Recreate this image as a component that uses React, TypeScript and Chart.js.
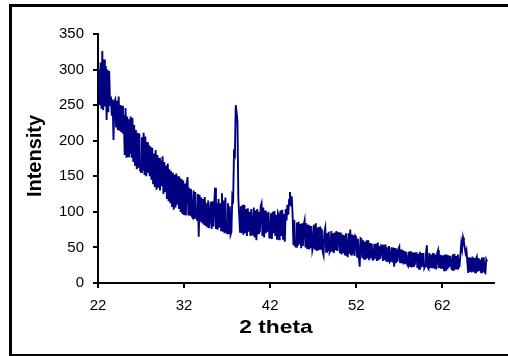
import React, { useEffect, useRef } from "react";
import { Chart, registerables } from "chart.js";

Chart.register(...registerables);

// XRD scan: 2 theta from 22.0 to 67.2 degrees, 0.1 degree step
const SCAN_START = 22;
const SCAN_STEP = 0.1;

const intensity: number[] = [
  268, 300, 250, 310, 245, 326, 243, 314, 248, 305, // 22.0
  229, 300, 240, 298, 250, 262, 235, 258, 201, 255, // 23.0
  258, 220, 256, 215, 262, 214, 250, 212, 249, 210, // 24.0
  236, 180, 246, 176, 234, 178, 230, 182, 234, 176, // 25.0
  232, 170, 222, 166, 215, 160, 211, 162, 210, 158, // 26.0
  156, 205, 158, 211, 152, 206, 150, 198, 155, 194, // 27.0
  150, 192, 145, 190, 140, 182, 135, 187, 131, 180, // 28.0
  134, 176, 130, 172, 136, 178, 125, 170, 128, 165, // 29.0
  118, 168, 115, 160, 112, 157, 108, 155, 103, 152, // 30.0
  106, 154, 110, 150, 104, 148, 100, 146, 97, 144, // 31.0
  97, 140, 95, 138, 149, 95, 134, 96, 132, 94, // 32.0
  92, 130, 90, 128, 94, 89, 125, 65, 124, 86, // 33.0
  120, 84, 118, 82, 121, 80, 112, 78, 116, 77, // 34.0
  77, 114, 76, 115, 79, 110, 134, 76, 112, 75, // 35.0
  118, 78, 112, 74, 126, 72, 116, 70, 120, 72, // 36.0
  70, 112, 69, 108, 68, 72, 122, 118, 183, 180, // 37.0
  250, 240, 227, 120, 96, 72, 108, 70, 110, 68, // 38.0
  110, 70, 104, 66, 105, 72, 100, 66, 104, 68, // 39.0
  74, 106, 64, 102, 60, 104, 70, 100, 71, 108, // 40.0
  112, 66, 106, 64, 102, 70, 98, 72, 100, 64, // 41.0
  64, 98, 62, 100, 70, 101, 66, 96, 62, 99, // 42.0
  96, 60, 102, 66, 103, 62, 97, 58, 104, 88, // 43.0
  110, 96, 117, 128, 108, 122, 98, 53, 89, 52, // 44.0
  51, 85, 52, 86, 54, 83, 49, 84, 52, 82, // 45.0
  88, 50, 84, 48, 82, 47, 80, 49, 80, 46, // 46.0
  52, 82, 47, 84, 45, 78, 46, 79, 48, 76, // 47.0
  74, 44, 39, 72, 78, 44, 70, 45, 72, 43, // 48.0
  46, 73, 44, 70, 42, 71, 46, 73, 45, 70, // 49.0
  70, 42, 71, 40, 68, 42, 67, 40, 70, 39, // 50.0
  38, 70, 41, 75, 40, 68, 41, 67, 38, 66, // 51.0
  64, 37, 62, 36, 23, 63, 62, 35, 60, 34, // 52.0
  58, 33, 60, 35, 60, 32, 56, 35, 55, 33, // 53.0
  33, 55, 34, 55, 31, 57, 32, 52, 34, 53, // 54.0
  52, 31, 54, 32, 54, 30, 50, 31, 52, 30, // 55.0
  32, 50, 29, 50, 23, 49, 28, 47, 30, 48, // 56.0
  51, 28, 47, 28, 46, 26, 45, 27, 44, 26, // 57.0
  24, 44, 23, 45, 22, 43, 24, 43, 25, 42, // 58.0
  42, 21, 41, 20, 44, 22, 42, 23, 42, 21, // 59.0
  24, 42, 53, 22, 20, 42, 21, 40, 22, 41, // 60.0
  41, 20, 40, 19, 42, 46, 21, 40, 20, 39, // 61.0
  20, 39, 18, 40, 17, 40, 19, 39, 22, 38, // 62.0
  38, 18, 40, 17, 41, 19, 38, 19, 40, 22, // 63.0
  24, 40, 56, 48, 64, 58, 50, 42, 46, 30, // 64.0
  14, 36, 16, 35, 15, 37, 16, 35, 15, 34, // 65.0
  37, 16, 35, 17, 33, 15, 36, 16, 36, 15, // 66.0
  14, 33, 30, // 67.0
];

const xTicks: number[] = [22, 32, 42, 52, 62];
const X_MIN = 22;
const X_MAX = 68;
const Y_MIN = 0;
const Y_MAX = 350;
const Y_STEP = 50;

const X_TITLE = "2 theta";
const Y_TITLE = "Intensity";

const FONT = "'Liberation Sans', Arial, sans-serif";

const framePlugin = {
  id: "frameAndTitles",
  beforeDraw(chart: any) {
    const ctx = chart.ctx;
    ctx.save();
    ctx.fillStyle = "#ffffff";
    ctx.fillRect(0, 0, chart.width, chart.height);
    ctx.strokeStyle = "#000000";
    ctx.lineWidth = 3;
    ctx.strokeRect(10.5, 5.5, 520, 350);
    ctx.restore();
  },
  afterDraw(chart: any) {
    const ctx = chart.ctx;
    ctx.save();
    ctx.fillStyle = "#000000";
    ctx.textAlign = "center";
    ctx.textBaseline = "middle";
    ctx.save();
    ctx.font = `bold 19px ${FONT}`;
    ctx.translate(276, 328);
    ctx.scale(1.2, 1);
    ctx.fillText(X_TITLE, 0, 0);
    ctx.restore();
    ctx.font = `bold 20px ${FONT}`;
    ctx.translate(35, 156);
    ctx.rotate(-Math.PI / 2);
    ctx.fillText(Y_TITLE, 0, 0);
    ctx.restore();
  },
};

export default function App() {
  const canvasRef = useRef<HTMLCanvasElement | null>(null);

  useEffect(() => {
    const canvas = canvasRef.current;
    if (!canvas) return;
    const points = intensity.map((v, i) => ({
      x: +(SCAN_START + i * SCAN_STEP).toFixed(2),
      y: v,
    }));
    const chart = new Chart(canvas, {
      type: "line",
      data: {
        datasets: [
          {
            data: points,
            borderColor: "#000080",
            borderWidth: 1.9,
            pointRadius: 0,
            tension: 0,
            fill: false,
          },
        ],
      },
      options: {
        animation: false,
        responsive: false,
        devicePixelRatio: 1,
        parsing: false,
        normalized: true,
        layout: { padding: { left: 0, top: 34, right: 14, bottom: 0 } },
        plugins: {
          legend: { display: false },
          tooltip: { enabled: false },
          title: { display: false },
        },
        scales: {
          x: {
            type: "linear",
            min: X_MIN,
            max: X_MAX,
            afterBuildTicks: (scale: any) => {
              scale.ticks = xTicks.map((v) => ({ value: v }));
            },
            afterFit: (scale: any) => {
              scale.height = 73;
            },
            border: { display: true, color: "#000000", width: 2 },
            grid: {
              drawOnChartArea: false,
              drawTicks: true,
              tickLength: 5,
              color: "#000000",
              lineWidth: 2,
            },
            ticks: {
              color: "#000000",
              padding: 9,
              maxRotation: 0,
              autoSkip: false,
              font: { family: FONT, size: 15 },
              callback: (v: any) => String(v),
            },
          },
          y: {
            type: "linear",
            min: Y_MIN,
            max: Y_MAX,
            afterFit: (scale: any) => {
              scale.width = 98;
            },
            border: { display: true, color: "#000000", width: 2 },
            grid: {
              drawOnChartArea: false,
              drawTicks: true,
              tickLength: 5,
              color: "#000000",
              lineWidth: 2,
            },
            ticks: {
              color: "#000000",
              stepSize: Y_STEP,
              padding: 9,
              font: { family: FONT, size: 15 },
            },
          },
        },
      },
      plugins: [framePlugin],
    });
    return () => chart.destroy();
  }, []);

  return (
    <div style={{ position: "absolute", left: 0, top: 0, width: 508, height: 356 }}>
      <canvas ref={canvasRef} width={508} height={356} style={{ display: "block" }} />
    </div>
  );
}
